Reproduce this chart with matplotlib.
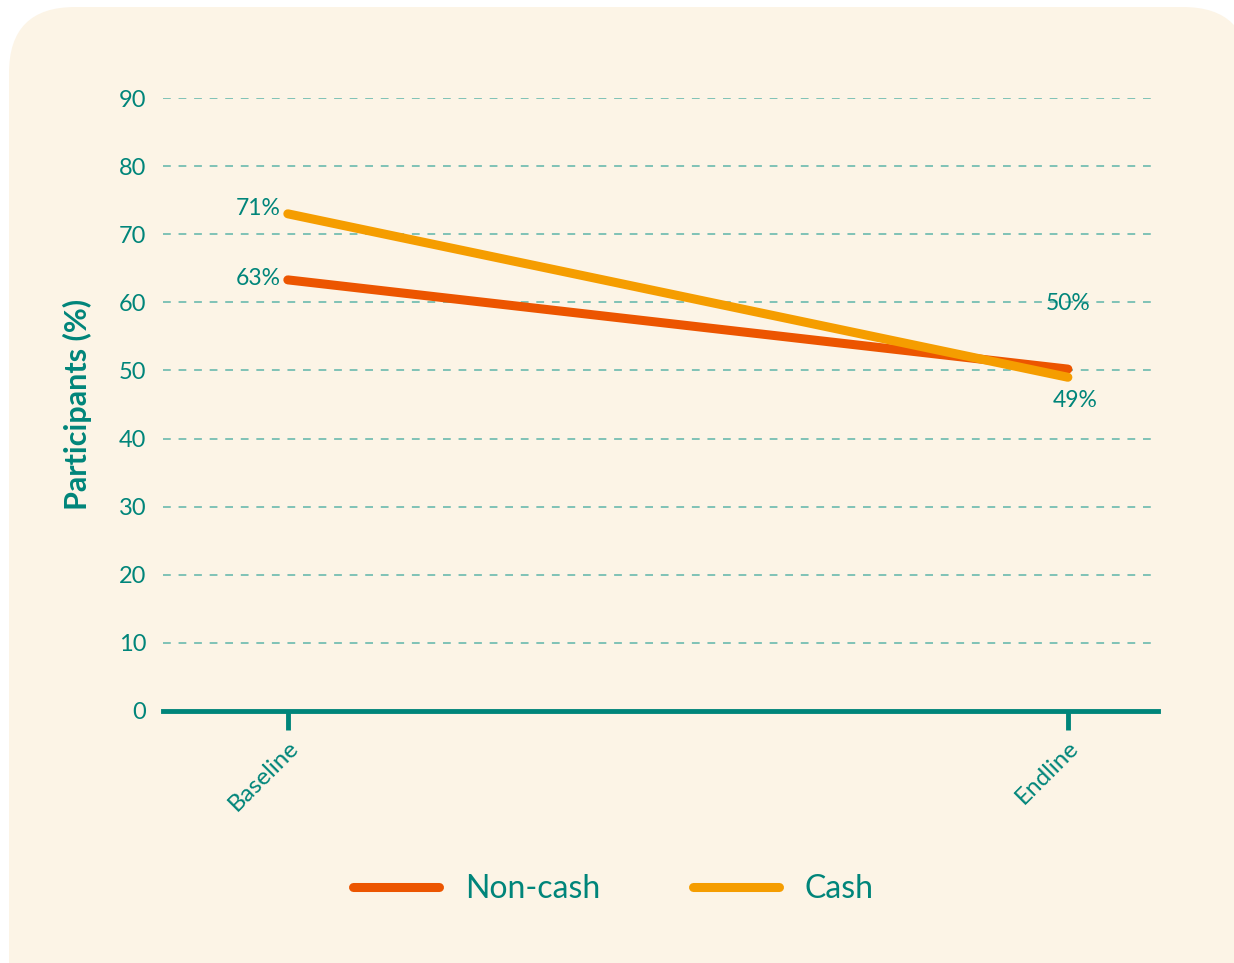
import matplotlib
matplotlib.use("Agg")
import matplotlib.pyplot as plt
from matplotlib.patches import FancyBboxPatch
from matplotlib.transforms import IdentityTransform

# data
categories = ["Baseline", "Endline"]
non_cash = [63.3, 50.2]
cash = [73, 49]
non_cash_labels = ["63%", "50%"]
cash_labels = ["71%", "49%"]
y_ticks = [0, 10, 20, 30, 40, 50, 60, 70, 80, 90]

teal = "#00857a"
grid_teal = "#7fc2b6"
cream = "#fcf4e6"
red_orange = "#ec5500"
orange = "#f59d00"

plt.rcParams["font.family"] = ["Lato", "DejaVu Sans"]

fig = plt.figure(figsize=(12.34, 9.63), dpi=100, facecolor="white")

# cream panel with rounded top corners
panel = FancyBboxPatch((9, -100), 1240, 956 + 100,
                       boxstyle="round,pad=0,rounding_size=66",
                       transform=IdentityTransform(), facecolor=cream,
                       edgecolor="none", zorder=-10)
fig.patches.append(panel)

ax = fig.add_axes([0.1321, 0.2617, 0.8063, 0.6365])
ax.set_facecolor("none")

x = list(range(len(categories)))
ax.plot(x, non_cash, color=red_orange, lw=6.5, solid_capstyle="round",
        label="Non-cash", zorder=3)
ax.plot(x, cash, color=orange, lw=6.5, solid_capstyle="round",
        label="Cash", zorder=4)

# value labels
ax.annotate(cash_labels[0], (x[0], cash[0]), xytext=(-5, 4), textcoords="offset points",
            ha="right", va="center", color=teal, fontsize=16.5)
ax.annotate(non_cash_labels[0], (x[0], non_cash[0]), xytext=(-5, 1), textcoords="offset points",
            ha="right", va="center", color=teal, fontsize=16.5)
ax.annotate(non_cash_labels[1], (x[1], non_cash[1]), xytext=(0, 47), textcoords="offset points",
            ha="center", va="center", color=teal, fontsize=16.5)
ax.annotate(cash_labels[1], (x[1], cash[1]), xytext=(5, -17), textcoords="offset points",
            ha="center", va="center", color=teal, fontsize=16.5)

ax.set_xlim(-0.160, 1.1155)
ax.set_ylim(0, 90)
ax.set_yticks(y_ticks)
ax.set_xticks(x)
ax.set_xticklabels(categories, rotation=45, ha="right", rotation_mode="anchor",
                   color=teal, fontsize=17.5)
ax.tick_params(axis="x", length=14, width=3.5, color=teal, pad=5)
ax.tick_params(axis="y", length=0, pad=12, labelcolor=teal, labelsize=17)

ax.grid(axis="y", color=grid_teal, ls=(0, (4, 4)), lw=1.4)
ax.set_axisbelow(True)
for s in ["top", "right", "left"]:
    ax.spines[s].set_visible(False)
ax.spines["bottom"].set_color(teal)
ax.spines["bottom"].set_linewidth(3.5)
ax.spines["bottom"].set_zorder(5)

ax.set_ylabel("Participants (%)", color=teal, fontsize=22, fontweight="bold", labelpad=19)

fig.legend(loc="center", bbox_to_anchor=(0.497, 0.077), ncol=2, frameon=False,
           fontsize=23, labelcolor=teal, handlelength=2.7, handletextpad=0.8,
           columnspacing=2.9)

fig.savefig("out.png", dpi=100, facecolor=fig.get_facecolor())
